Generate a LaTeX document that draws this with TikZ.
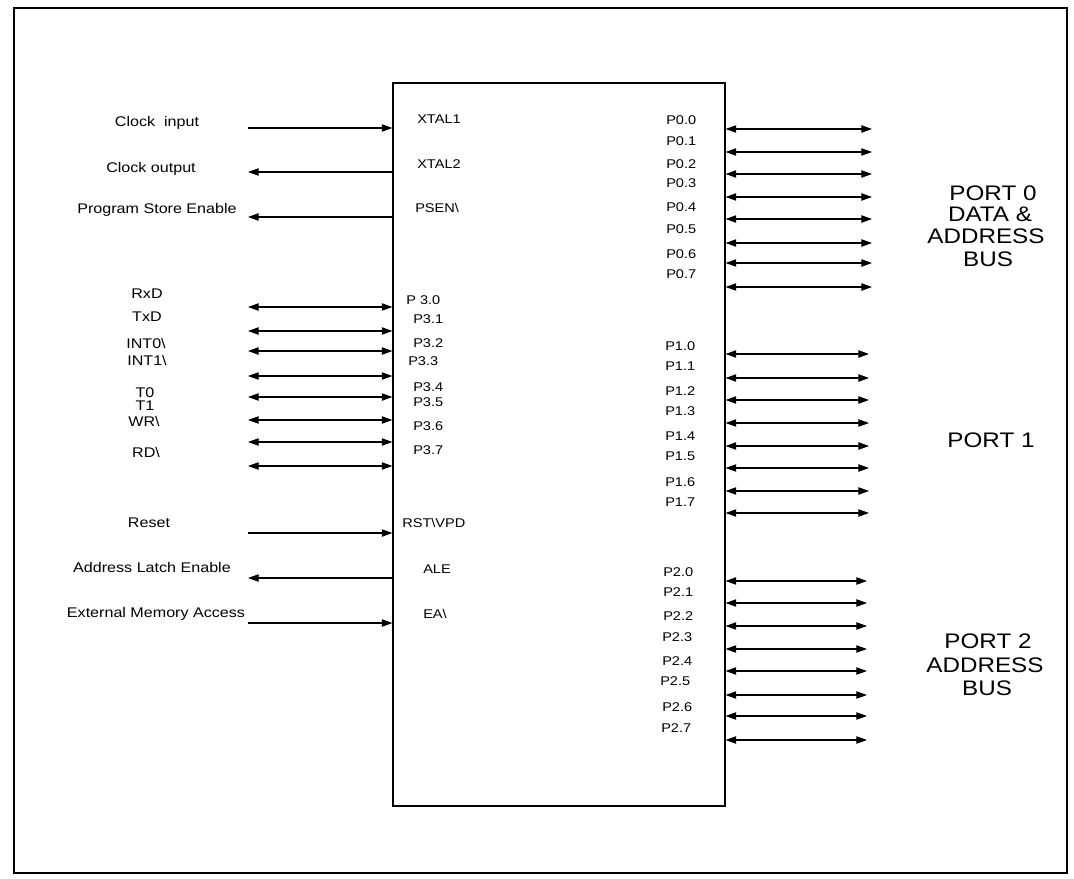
\documentclass[tikz,border=0pt]{standalone}
\usepackage{fontspec}
\setmainfont{Liberation Sans}[FakeStretch=1.15]
\usetikzlibrary{arrows.meta,fit}
\begin{document}
\begin{tikzpicture}[x=0.75pt,y=-0.75pt,
  siglabel/.style={font=\fontsize{10.5}{12}\selectfont, anchor=base, inner sep=0pt},
  pinlabel/.style={font=\fontsize{9.5}{11}\selectfont, anchor=base west, inner sep=0pt},
  portlabel/.style={font=\fontsize{15.8}{18}\selectfont, anchor=base, inner sep=0pt},
  wire/.style={line width=0.9pt},
  tohead/.style={wire,-{Triangle[length=8pt,width=5.5pt]}},
  bothheads/.style={wire,{Triangle[length=8pt,width=5.5pt]}-{Triangle[length=8pt,width=5.5pt]}},
  chipbox/.style={draw, line width=0.8pt, inner sep=0pt}
]
\useasboundingbox (0,0) rectangle (1074,878);
% outer frame
\draw[line width=2.2pt] (14,8) rectangle (1067,873);
% chip
\node[chipbox, fit={(393,83) (725,806)}] (chip) {};

% ---------- left side single signals ----------
% Clock input
\node[siglabel] (lci) at (157,126) {Clock~ input};
\coordinate (aci) at (248,128);
\draw[tohead] (aci) -- (aci -| chip.west);
% Clock output
\node[siglabel] (lco) at (151,172) {Clock output};
\coordinate (aco) at (248,172);
\draw[tohead] (aco -| chip.west) -- (aco);
% PSEN
\node[siglabel] (lps) at (157,213) {Program Store Enable};
\coordinate (aps) at (248,217);
\draw[tohead] (aps -| chip.west) -- (aps);

% ---------- port 3 ----------
\node[siglabel] (lrxd) at (147,298) {RxD};
\node[siglabel] (ltxd) at (147,321) {TxD};
\node[siglabel] (lint0) at (146,348) {INT0\textbackslash};
\node[siglabel] (lint1) at (147,365) {INT1\textbackslash};
\node[siglabel] (lt0) at (145,397) {T0};
\node[siglabel] (lt1) at (145,410) {T1};
\node[siglabel] (lwr) at (144,426) {WR\textbackslash};
\node[siglabel] (lrd) at (146,457) {RD\textbackslash};
\foreach \i/\y in {0/307,1/331,2/351,3/376,4/397,5/420,6/442,7/466}{
  \coordinate (p3\i) at (248,\y);
  \draw[bothheads] (p3\i) -- (p3\i -| chip.west);
}

% ---------- lower left ----------
\node[siglabel] (lrst) at (149,527) {Reset};
\coordinate (arst) at (248,533);
\draw[tohead] (arst) -- (arst -| chip.west);
\node[siglabel] (lale) at (152,572) {Address Latch Enable};
\coordinate (aale) at (248,578);
\draw[tohead] (aale -| chip.west) -- (aale);
\node[siglabel] (lea) at (156,617) {External Memory Access};
\coordinate (aea) at (248,623);
\draw[tohead] (aea) -- (aea -| chip.west);

% ---------- pin names, left ----------
\node[pinlabel] (nx1) at (417,123) {XTAL1};
\node[pinlabel] (nx2) at (417,168) {XTAL2};
\node[pinlabel] (nps) at (415,212) {PSEN\textbackslash};
\node[pinlabel] (n30) at (406,304) {P 3.0};
\node[pinlabel] (n31) at (413,323) {P3.1};
\node[pinlabel] (n32) at (413,347) {P3.2};
\node[pinlabel] (n33) at (408,365) {P3.3};
\node[pinlabel] (n34) at (413,391) {P3.4};
\node[pinlabel] (n35) at (413,406) {P3.5};
\node[pinlabel] (n36) at (413,430) {P3.6};
\node[pinlabel] (n37) at (413,454) {P3.7};
\node[pinlabel] (nrst) at (402,527) {RST\textbackslash VPD};
\node[pinlabel] (nale) at (423,573) {ALE};
\node[pinlabel] (nea) at (423,618) {EA\textbackslash};

% ---------- port 0 ----------
\foreach \i/\yl/\ya in {0/124/129,1/145/152,2/168/174,3/187/197,4/211/219,5/233/243,6/258/263,7/278/287}{
  \node[pinlabel] (n0\i) at (666,\yl) {P0.\i};
  \coordinate (p0\i) at (872,\ya);
  \draw[bothheads] (p0\i -| chip.east) -- (p0\i);
}
% ---------- port 1 ----------
\foreach \i/\yl/\ya in {0/350/354,1/370/378,2/395/400,3/415/423,4/440/446,5/460/468,6/486/491,7/506/513}{
  \node[pinlabel] (n1\i) at (665,\yl) {P1.\i};
  \coordinate (p1\i) at (869,\ya);
  \draw[bothheads] (p1\i -| chip.east) -- (p1\i);
}
% ---------- port 2 ----------
\foreach \i/\yl/\ya/\xl in {0/576/581/663,1/596/603/663,2/620/626/663,3/641/649/662,4/665/671/662,5/685/695/660,6/711/716/662,7/732/740/661}{
  \node[pinlabel] (n2\i) at (\xl,\yl) {P2.\i};
  \coordinate (p2\i) at (867,\ya);
  \draw[bothheads] (p2\i -| chip.east) -- (p2\i);
}

% ---------- port descriptions ----------
\node[portlabel] (t0a) at (993,200) {PORT 0};
\node[portlabel] (t0b) at (990,221) {DATA \&};
\node[portlabel] (t0c) at (986,243) {ADDRESS};
\node[portlabel] (t0d) at (988,266) {BUS};
\node[portlabel] (t1) at (991,447) {PORT 1};
\node[portlabel] (t2a) at (988,648) {PORT 2};
\node[portlabel] (t2b) at (985,672) {ADDRESS};
\node[portlabel] (t2c) at (987,695) {BUS};
\end{tikzpicture}
\end{document}
